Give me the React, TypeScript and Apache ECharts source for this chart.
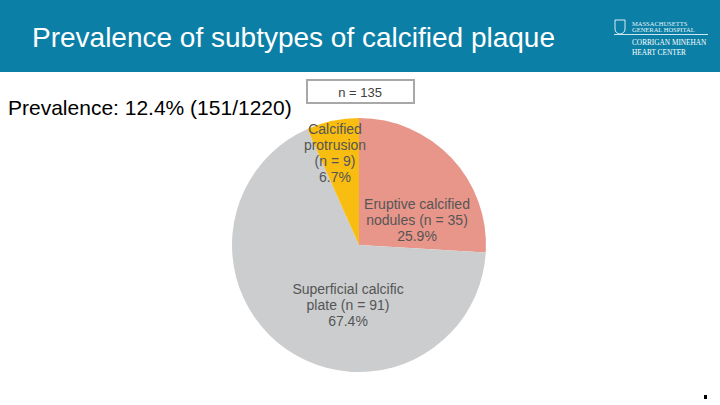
import React, { useEffect, useRef } from "react";
import * as echarts from "echarts";

const categories = ["Eruptive calcified nodules", "Superficial calcific plate", "Calcified protrusion"];
const counts = [35, 91, 9];
const percents = ["25.9%", "67.4%", "6.7%"];
const labelLines = [
  ["Eruptive calcified", "nodules (n = 35)", "25.9%"],
  ["Superficial calcific", "plate (n = 91)", "67.4%"],
  ["Calcified", "protrusion", "(n = 9)", "6.7%"],
];
const sliceColors = ["#E8968A", "#CBCDCF", "#F9BD12"];
const labelPos = [
  [417, 220],
  [348, 305],
  [335, 153],
];
const titleText = "Prevalence of subtypes of calcified plaque";
const prevalenceText = "Prevalence: 12.4% (151/1220)";
const totalText = "n = 135";

export default function App() {
  const ref = useRef<HTMLDivElement>(null);
  useEffect(() => {
    document.body.style.margin = "0";
    const chart = echarts.init(ref.current!, null, { renderer: "svg" });
    const font = "'Liberation Sans', Arial, sans-serif";
    const serif = "'Liberation Serif', serif";
    chart.setOption({
      animation: false,
      backgroundColor: "#ffffff",
      textStyle: { fontFamily: font },
      graphic: [
        { type: "rect", shape: { x: 0, y: 0, width: 720, height: 72 }, style: { fill: "#0B7FA6" }, z: 0 },
        {
          type: "text", x: 32, y: 37,
          style: { text: titleText, fill: "#ffffff", font: `28px ${font}`, textVerticalAlign: "middle" },
        },
        // logo
        { type: "rect", shape: { x: 615, y: 20, width: 10, height: 14, r: [0, 0, 5, 5] }, style: { fill: "none", stroke: "#dbeef5", lineWidth: 1 } },
        { type: "line", shape: { x1: 614, y1: 34.5, x2: 708, y2: 34.5 }, style: { stroke: "#cfe6ef", lineWidth: 1 } },
        { type: "text", x: 632, y: 23, style: { text: "MASSACHUSETTS", fill: "#e6f3f8", font: `6.5px ${serif}`, textVerticalAlign: "middle" } },
        { type: "text", x: 632, y: 29, style: { text: "GENERAL HOSPITAL", fill: "#e6f3f8", font: `6.5px ${serif}`, textVerticalAlign: "middle" } },
        { type: "text", x: 632, y: 42, style: { text: "CORRIGAN MINEHAN", fill: "#ffffff", font: `7.3px ${serif}`, textVerticalAlign: "middle" } },
        { type: "text", x: 632, y: 52, style: { text: "HEART CENTER", fill: "#ffffff", font: `7.3px ${serif}`, textVerticalAlign: "middle" } },
        {
          type: "text", x: 8, y: 107,
          style: { text: prevalenceText, fill: "#000000", font: `21px ${font}`, textVerticalAlign: "middle" },
        },
        { type: "rect", shape: { x: 307, y: 80, width: 107, height: 23 }, style: { fill: "#ffffff", stroke: "#A8A8A8", lineWidth: 2 } },
        {
          type: "text", x: 360, y: 92,
          style: { text: totalText, fill: "#404040", font: `13px ${font}`, textAlign: "center", textVerticalAlign: "middle" },
        },
        { type: "rect", shape: { x: 704, y: 395, width: 3, height: 4 }, style: { fill: "#000000" } },
      ],
      series: [
        {
          type: "pie",
          center: [359, 245],
          radius: [0, 127],
          startAngle: 90,
          clockwise: true,
          silent: true,
          data: categories.map((c, i) => ({
            name: c,
            value: counts[i],
            itemStyle: { color: sliceColors[i] },
          })),
          label: {
            show: true,
            position: "inside",
            formatter: (p: any) => labelLines[p.dataIndex].join("\n"),
            color: "#555555",
            fontSize: 14,
            lineHeight: 16,
            fontFamily: font,
            align: "center",
          },
          labelLayout: (p: any) => ({ x: labelPos[p.dataIndex][0], y: labelPos[p.dataIndex][1], align: "center", verticalAlign: "middle" }),
          labelLine: { show: false },
        },
      ],
    });
    return () => chart.dispose();
  }, []);
  return <div ref={ref} style={{ width: 720, height: 405 }} />;
}
